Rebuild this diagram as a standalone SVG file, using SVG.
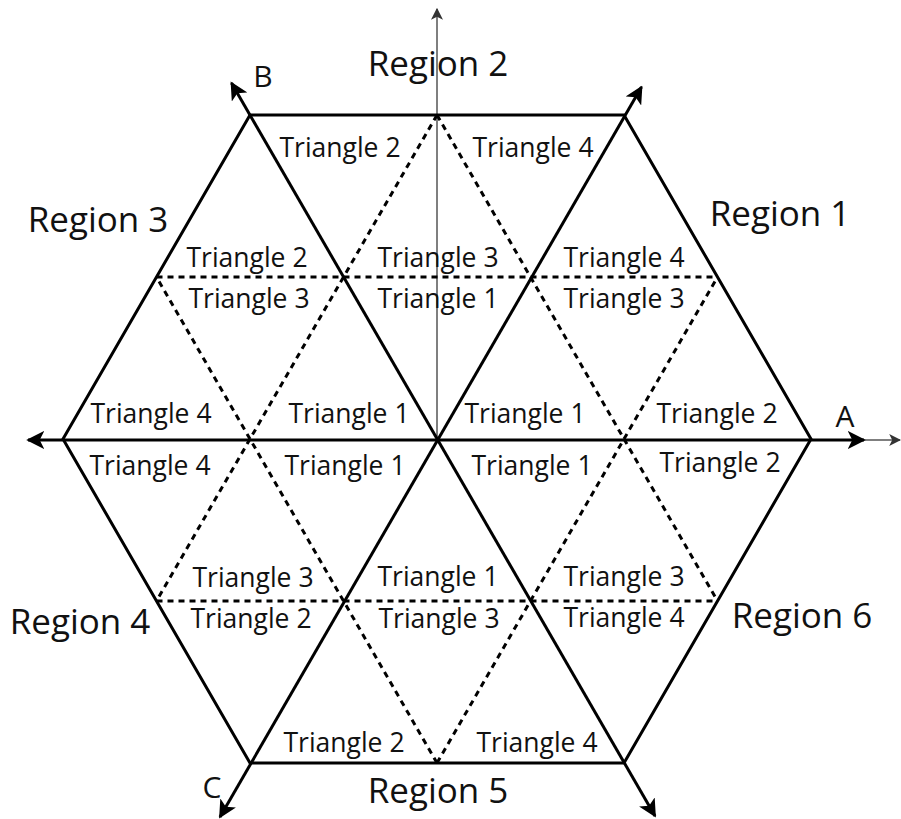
<svg xmlns="http://www.w3.org/2000/svg" width="901" height="819" viewBox="0 0 901 819">
<style>
.solid{stroke:#000;stroke-width:3;fill:none;stroke-linejoin:miter}
.dash{stroke:#000;stroke-width:3;fill:none;stroke-dasharray:6 5}
.thin{stroke:#555;stroke-width:1.5;fill:none}
.tri{font-family:"Open Sans","Liberation Sans",sans-serif;font-size:26.5px;fill:#111;text-anchor:middle}
.reg{font-family:"Open Sans","Liberation Sans",sans-serif;font-size:35px;fill:#111;text-anchor:middle}
.ax{font-family:"Open Sans","Liberation Sans",sans-serif;font-size:30px;fill:#111;text-anchor:middle}
</style>
<defs>
<marker id="ah" viewBox="0 0 10 10" refX="9" refY="5" markerWidth="6" markerHeight="6" markerUnits="strokeWidth" orient="auto-start-reverse">
<path d="M0,0 L10,5 L0,10 L2.5,5 Z" fill="#000"/>
</marker>
<marker id="ahs" viewBox="0 0 10 10" refX="9" refY="5" markerWidth="8" markerHeight="8" markerUnits="strokeWidth" orient="auto-start-reverse">
<path d="M0,0 L10,5 L0,10 L2.5,5 Z" fill="#333"/>
</marker>
</defs>
<g id="connectors">
<line class="thin" x1="437" y1="439" x2="437" y2="9" marker-end="url(#ahs)"/>
<line class="thin" x1="850" y1="440" x2="900" y2="440" marker-end="url(#ahs)"/>
<line class="solid" x1="28" y1="440" x2="864" y2="440" marker-start="url(#ah)" marker-end="url(#ah)"/>
<line class="solid" x1="231.5" y1="83" x2="655" y2="816" marker-start="url(#ah)" marker-end="url(#ah)"/>
<line class="solid" x1="641.5" y1="87" x2="220" y2="817" marker-start="url(#ah)" marker-end="url(#ah)"/>
</g>
<g id="hexagon">
<polygon class="solid" points="63,439 250,115 624,115 811,439 624,763 250,763"/>
</g>
<g id="dashed">
<line class="dash" x1="156.5" y1="277" x2="717.5" y2="277"/>
<line class="dash" x1="156.5" y1="601" x2="717.5" y2="601"/>
<line class="dash" x1="437" y1="115" x2="717.5" y2="601"/>
<line class="dash" x1="437" y1="115" x2="156.5" y2="601"/>
<line class="dash" x1="437" y1="763" x2="156.5" y2="277"/>
<line class="dash" x1="437" y1="763" x2="717.5" y2="277"/>
</g>
<g id="axis-labels">
<text class="ax" x="263" y="87">B</text>
<text class="ax" x="845" y="427">A</text>
<text class="ax" x="212" y="798">C</text>
</g>
<g id="regions">
<text class="reg" x="438" y="76">Region 2</text>
<text class="reg" x="98" y="232">Region 3</text>
<text class="reg" x="780" y="226">Region 1</text>
<text class="reg" x="80" y="634">Region 4</text>
<text class="reg" x="802" y="628">Region 6</text>
<text class="reg" x="438" y="803">Region 5</text>
</g>
<g id="triangles">
<text class="tri" x="340" y="157">Triangle 2</text>
<text class="tri" x="533" y="157">Triangle 4</text>
<text class="tri" x="247" y="267">Triangle 2</text>
<text class="tri" x="438" y="267">Triangle 3</text>
<text class="tri" x="624" y="267">Triangle 4</text>
<text class="tri" x="249" y="308">Triangle 3</text>
<text class="tri" x="438" y="308">Triangle 1</text>
<text class="tri" x="624" y="308">Triangle 3</text>
<text class="tri" x="151" y="423">Triangle 4</text>
<text class="tri" x="349" y="423">Triangle 1</text>
<text class="tri" x="525" y="423">Triangle 1</text>
<text class="tri" x="717" y="423">Triangle 2</text>
<text class="tri" x="150" y="475">Triangle 4</text>
<text class="tri" x="345" y="475">Triangle 1</text>
<text class="tri" x="532" y="475">Triangle 1</text>
<text class="tri" x="720" y="472">Triangle 2</text>
<text class="tri" x="253" y="587">Triangle 3</text>
<text class="tri" x="438" y="586">Triangle 1</text>
<text class="tri" x="624" y="586">Triangle 3</text>
<text class="tri" x="251" y="628">Triangle 2</text>
<text class="tri" x="439" y="628">Triangle 3</text>
<text class="tri" x="624" y="627">Triangle 4</text>
<text class="tri" x="344" y="752">Triangle 2</text>
<text class="tri" x="537" y="752">Triangle 4</text>
</g>
</svg>
